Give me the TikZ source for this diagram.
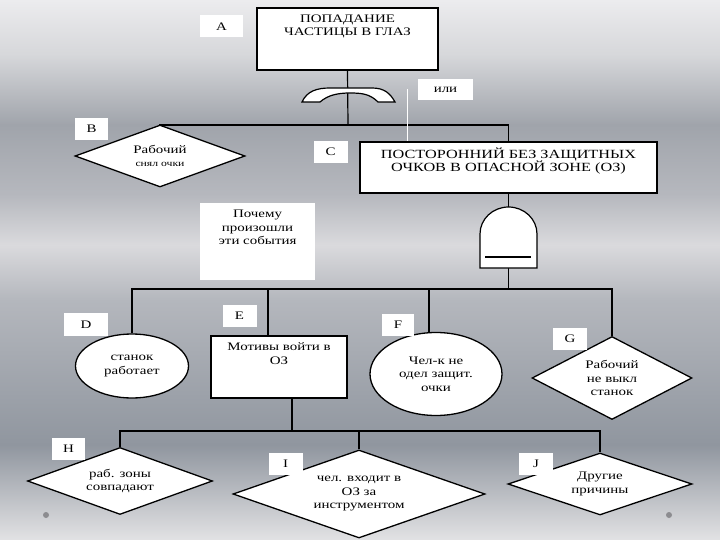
\documentclass[tikz,border=0pt]{standalone}
\usepackage{fontspec}
\setmainfont[FakeStretch=1.3]{Liberation Serif}
\usetikzlibrary{shapes.geometric}
\definecolor{FundoA}{RGB}{236,236,238}
\definecolor{FundoB}{RGB}{214,215,218}
\definecolor{FundoC}{RGB}{160,164,171}
\definecolor{FundoD}{RGB}{182,184,190}
\definecolor{FundoE}{RGB}{218,218,221}
\definecolor{FundoF}{RGB}{180,183,189}
\definecolor{FundoG}{RGB}{144,150,159}
\definecolor{FundoH}{RGB}{226,226,228}
\definecolor{Ponto}{RGB}{140,140,144}

\begin{document}
\begin{tikzpicture}[x=1pt,y=-1pt,every node/.style={font=\fontsize{11.5}{13.5}\selectfont},
caixa/.style={draw,fill=white,line width=1.3pt,inner sep=0pt},
losango/.style={caixa,diamond,shape aspect=2.6,align=center},
elipse/.style={caixa,ellipse,align=center},
rotulo/.style={fill=white,inner sep=0pt,minimum width=34pt,minimum height=22pt},
topo/.style={anchor=north,align=center,yshift=-4pt},
liga/.style={line width=1.2pt},
porta/.style={draw,fill=white,line width=1.2pt}]
% fundo
\shade[top color=FundoA,bottom color=FundoB](0,0)rectangle(720,55);
\shade[top color=FundoB,bottom color=FundoC](0,55)rectangle(720,125);
\shade[top color=FundoC,bottom color=FundoD](0,125)rectangle(720,195);
\shade[top color=FundoD,bottom color=FundoE](0,195)rectangle(720,245);
\shade[top color=FundoE,bottom color=FundoF](0,245)rectangle(720,300);
\shade[top color=FundoF,bottom color=FundoG](0,300)rectangle(720,445);
\shade[top color=FundoG,bottom color=FundoH](0,445)rectangle(720,540);
\useasboundingbox(0,0)rectangle(720,540);
% eventos
\node[caixa,minimum width=181pt,minimum height=62pt,label={[topo]north:ПОПАДАНИЕ\\ЧАСТИЦЫ В ГЛАЗ}](evA)at(347.5,39){};
\node[losango,minimum width=170pt,minimum height=62pt](evB)at(160,156){Рабочий\\{\fontsize{9}{11}\selectfont снял очки}};
\node[caixa,minimum width=297pt,minimum height=51pt,label={[topo,yshift=1pt,font=\fontsize{12.5}{13.5}\selectfont]north:ПОСТОРОННИЙ БЕЗ ЗАЩИТНЫХ\\ОЧКОВ В ОПАСНОЙ ЗОНЕ (ОЗ)}](evC)at(508.5,167.5){};
\node[fill=white,inner sep=0pt,minimum width=115pt,minimum height=77pt,label={[topo]north:Почему\\произошли\\эти события}](porque)at(257.5,241.5){};
\node[elipse,minimum width=113pt,minimum height=64pt](evD)at(132,366){станок\\работает};
\node[caixa,minimum width=136pt,minimum height=62pt,label={[topo]north:Мотивы войти в\\ОЗ}](evE)at(279,367){};
\node[elipse,minimum width=132pt,minimum height=83pt](evF)at(436,374){Чел-к не\\одел защит.\\очки};
\node[losango,minimum width=160pt,minimum height=83pt](evG)at(612,378){Рабочий\\не выкл\\станок};
\node[losango,minimum width=185pt,minimum height=67pt](evH)at(120,481){раб. зоны\\совпадают};
\node[losango,minimum width=252pt,minimum height=88pt](evI)at(359,494){чел. входит в\\ОЗ за\\инструментом};
\node[losango,minimum width=184pt,minimum height=62pt](evJ)at(600,484){Другие\\причины};
% ligacoes
\coordinate(barraA)at(348,125);
\coordinate(barraB)at(508.5,289);
\coordinate(barraC)at(292,431);
\draw[liga](evA.south)--(barraA);
\draw[liga](evB.north)|-(barraA)-|(evC.north);
\draw[liga](evC.south)--(barraB);
\draw[liga](evD.north)|-(barraB)-|(evG.north);
\draw[liga]([xshift=-11pt]evE.north)--([xshift=-11pt]evE.north|-barraB);
\draw[liga]([xshift=-7pt]evF.north)--([xshift=-7pt]evF.north|-barraB);
\draw[liga]([xshift=13pt]evE.south)--(barraC);
\draw[liga](evH.north)|-(barraC)-|(evJ.north);
\draw[liga](evI.north)--(evI.north|-barraC);
% portas
\draw[porta](302,102)..controls(307,91)and(317,88)..(330,88)--(372,88)..controls(384,88)and(390,93)..(395,102)--(378,102)..controls(370,94)and(362,93)..(350,93)..controls(338,93)and(328,95)..(320,102)--cycle;
\draw[porta](480,268)--(480,234)arc[start angle=180,end angle=360,x radius=28.5,y radius=27]--(537,268)--cycle;
\draw[line width=1.2pt](485,257)--(531,257);
% rotulos
\node[rotulo,minimum width=43pt](rA)at(221.5,26.5){A};
\node[rotulo,minimum width=33pt](rB)at(91.5,129){B};
\node[rotulo](rC)at(330.5,152){C};
\node[rotulo,minimum width=44pt,minimum height=23pt](rD)at(86,324.5){D};
\node[rotulo](rE)at(239.5,316){E};
\node[rotulo,minimum width=32pt](rF)at(398,325){F};
\node[rotulo](rG)at(570,339){G};
\node[rotulo,minimum width=33pt](rH)at(68.5,449){H};
\node[rotulo](rI)at(285.5,464){I};
\node[rotulo](rJ)at(536,464){J};
\node[rotulo,minimum width=55pt,minimum height=21pt](ili)at(445.5,89.5){или};
\coordinate(guia)at(407,89);
\draw[white,line width=1pt](guia)--(guia|-evC.north);
\fill[Ponto](46,515)circle[radius=3pt];
\fill[Ponto](669,515)circle[radius=3pt];
\end{tikzpicture}
\end{document}
